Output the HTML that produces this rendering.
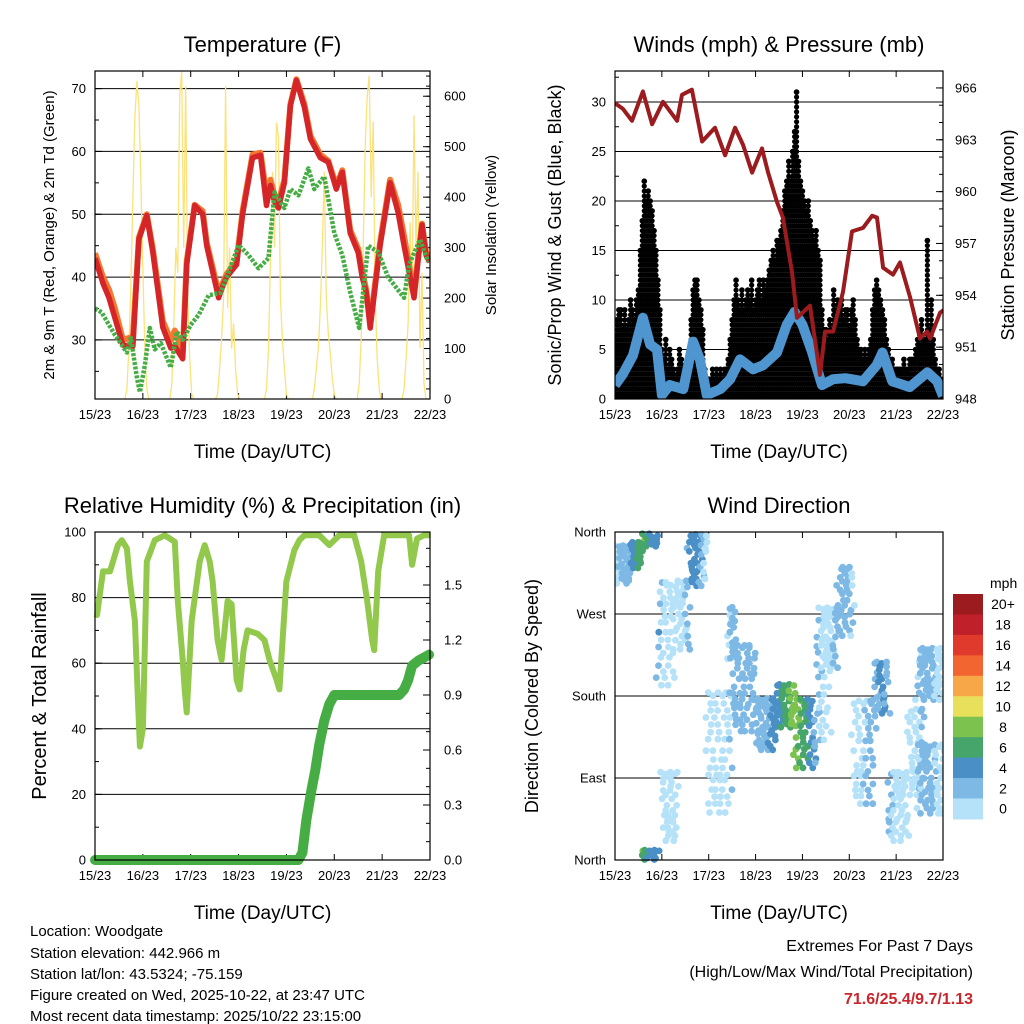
<!DOCTYPE html>
<html><head><meta charset="utf-8"><style>
body{margin:0;background:#fff}
svg{display:block;font-family:"Liberation Sans",Arial,sans-serif}
</style></head><body>
<svg id="c" width="1024" height="1024" viewBox="0 0 1024 1024" xmlns="http://www.w3.org/2000/svg">
<rect width="1024" height="1024" fill="#fff"/>
<g id="p1"></g>
<g id="p2"></g>
<g id="p3"></g>
<g id="p4"></g>
<g id="cb"></g>
<g font-size="15" fill="#000">
<text x="30" y="936">Location: Woodgate</text>
<text x="30" y="958">Station elevation: 442.966 m</text>
<text x="30" y="979">Station lat/lon: 43.5324; -75.159</text>
<text x="30" y="1000">Figure created on Wed, 2025-10-22, at 23:47 UTC</text>
<text x="30" y="1021">Most recent data timestamp: 2025/10/22 23:15:00</text>
</g>
<g text-anchor="end">
<text x="973" y="951" font-size="16">Extremes For Past 7 Days</text>
<text x="973" y="977" font-size="16">(High/Low/Max Wind/Total Precipitation)</text>
<text x="973" y="1004" font-size="16" font-weight="bold" fill="#c8262b">71.6/25.4/9.7/1.13</text>
</g>
</svg>
<script>
// ---------- DATA ----------
const dayLabels=["15/23","16/23","17/23","18/23","19/23","20/23","21/23","22/23"];
const tempHours=[0,4,7,10,14,19,22,26,29,34,38,40,44,46,50,54,56,62,64,66,71,74,79,83,86,88,90,92,95,98,101,105,108,113,117,121,124,128,132,134,136,138,143,148,152,155,158,160,164,166,168];
const tempRed=[43,39,36.7,33.5,29.2,29,46,49.8,44,32,28.7,29,27,42,51.4,50,45,36.7,38.5,40,42,50,59,59.4,51.4,54.6,52,51,55,67.3,71.3,67,62,59,58.3,54,56.7,47,43.9,40,37.6,31.9,45,55,50.3,45,40,36.7,48.3,43.5,42.4];
const tempOrange=[43.8,40,38,35,30,30.5,46.3,50,44.5,33,30,31.5,28,42.5,51.5,50.5,45.5,37.5,39,40.5,42.5,50.5,59.5,59.8,53,55.5,53,52,55.5,67.5,71.5,67.5,62.5,59.5,58.5,54.5,57,47.5,44.5,41,38,32.5,45.5,55.5,51.5,46.5,41,37.5,48.5,44,42.8];
const dewHours=[0,3.3,10,16,18,21,22.5,25,27.5,30,33,38,41,44,48,52,57,63,67,72,77,82,87,90,95,98,102,107,110,115,120,124,128,132.5,137,142,147,155,157.5,163,167];
const dewValues=[35,34.4,30.8,28,30.3,24,21.7,26,31.9,28.5,29.5,25.6,31.3,30,32.4,34,37.1,37.5,40.8,45.1,43.5,41.4,43,53.5,51,54,53,57.3,54,56,47,43.5,37.6,31.9,45,44,40,36.7,42,46,42.4];
const solarPeakHours=[21,43.5,66.5,91,115,137.5,160];
const solarDay1=[0,20,100,230,400,560,630,580,430,250,100,20,0];
const solarDay2=[0,30,150,300,250,600,650,300,620,200,80,10,0];
const solarDay3=[0,10,60,120,200,620,180,300,100,150,60,10,0];
const solarDay4=[0,20,100,280,450,300,548,520,200,120,60,10,0];
const solarDay5=[0,20,60,100,180,300,450,200,130,90,40,10,0];
const solarDay6=[0,30,120,300,500,600,640,400,550,200,80,20,0];
const solarDay7=[0,20,80,150,350,200,562,300,450,100,250,30,0];
const presHours=[-1,4,8.7,14.3,19,24.6,31.8,34.3,39.4,44.6,51.2,56.4,61.5,65.6,70.2,75.3,78.4,83,86,90.7,93.2,99.9,105,107.6,111.7,116.8,121.4,127,131.7,134.2,137.3,142.4,146,151.1,156.2,159.8,161.4,166.5,169];
const presValues=[965.2,964.8,964.1,965.8,963.9,965.2,964.1,965.6,965.9,962.9,963.7,962.1,963.7,962.7,961.1,962.5,961.1,959.4,958.5,955.3,952.7,953.4,949.4,951.9,951.9,954.2,957.7,957.9,958.6,958.5,955.6,955.2,955.9,953.9,951.5,951.9,951.5,953.0,953.2];
const sonicHours=[0,4,9.2,14.3,18,21.5,24,28,35,40,43.5,47,54,59,64,70.7,75.8,83,88,92,96,101,106,111.7,118,127,134,137,142,151,160,165,168];
const sonicValues=[1.4,2.5,4.4,8.2,5.5,5,0.4,1.4,1,5.8,4,0.4,1,2,4,3,3.4,4.7,7.5,8.8,7.5,4.7,1.4,2,2.1,1.8,3.4,4.7,1.8,1.2,2.7,1.8,0.3];
const gustHourly=[6,8,9,9,7,9,7,8,10,9,8,10,11,15,18,22,20,21,20,19,17,15,12,9,5,4,6,3,5,4,3,2,3,5,4,3,2,2,3,8,11,12,12,10,9,7,3,2,2,2,3,2,3,2,3,2,3,3,4,6,8,10,12,10,9,11,9,10,11,10,12,9,10,11,12,10,12,11,12,13,14,15,14,16,16,17,19,21,22,24,22,25,27,31,24,22,21,20,19,20,18,17,16,17,15,14,9,7,7,6,8,7,11,9,10,9,10,8,9,9,7,9,10,8,6,5,5,4,5,4,5,6,9,11,12,11,10,9,8,6,5,4,4,3,3,3,3,3,4,3,3,4,4,4,5,6,7,8,6,6,16,7,10,6,4,3,3,2,1];
const rhHours=[0,1,4,7.5,11.5,13.5,16,17.5,20,21.5,22.5,24,26,30,35,40,41.5,44,45,46,48.5,52.5,55,57.5,59,61.5,63.5,66.5,68.5,71,72.5,74.5,76.5,81.5,85,87.5,91,92.5,96,100,102.5,105,112.5,117.5,122.5,130,133.5,136.5,139,140,142,145,157.5,159,161.5,165,168];
const rhValues=[75,74.7,88,88,96,97.5,95,85,73,49,34.6,40,91,97.5,99,97,79,61,52,45,73,91,96,91,85,67,61,79,78,55,52,64,70,69,67,61,55,52,85,94.5,97.5,99,99,96,99,99,91,79,67,64,88,99,99,90,98,99,99];
const rainHours=[0,102,104,106,108.5,110.5,112.5,115,117.5,120,122.5,152.5,155,157,159,162.5,167.5];
const rainValues=[0,0,0.04,0.22,0.38,0.49,0.63,0.76,0.85,0.9,0.9,0.9,0.93,0.98,1.06,1.09,1.12];
const dirSegStart=[0,8,14,22,24,30,38,47,58,60,72,83,92,103,105,114,122,133,140,150,155,155];
const dirSegEnd=[8,14,22,30,32,38,47,60,62,72,83,92,103,110,114,122,133,140,150,158,168,168];
const dirSegCenter=[325,335,358,250,60,270,330,120,250,190,150,170,140,190,245,285,120,190,60,120,205,90];
const dirSegSpread=[22,15,14,60,40,40,30,70,30,50,30,25,40,60,35,40,60,30,40,50,30,40];
const speedBins=["0","2","4","6","8","10","12","14","16","18","20+"];
const speedColors=["#b5e2f8","#7db9e4","#4a8fc6","#46a56b","#7cc24f","#e8e05a","#f8a748","#f26430","#e03a2c","#c0202a","#9b1b1e"];
const jitterPattern=[0,-0.83,0.52,-0.27,0.91,-0.61,0.18,0.74,-0.97,0.41,-0.14,0.63,-0.46,0.29,-0.72,0.86,-0.38];
const xJitterPattern=[0,0.9,-0.6,0.4,-1.1,0.7,-0.3,1.2,-0.8,0.2,-0.5];

// ---------- HELPERS ----------
const NS="http://www.w3.org/2000/svg";
function mk(parent,tag,attrs,text){const e=document.createElementNS(NS,tag);for(const k in attrs)e.setAttribute(k,attrs[k]);if(text!==undefined)e.textContent=text;parent.appendChild(e);return e;}
function lin(d0,d1,r0,r1){return v=>r0+(v-d0)*(r1-r0)/(d1-d0);}
function interp(xs,ys,x){if(x<=xs[0])return ys[0];for(let i=1;i<xs.length;i++){if(x<=xs[i]){const t=(x-xs[i-1])/(xs[i]-xs[i-1]);return ys[i-1]+t*(ys[i]-ys[i-1]);}}return ys[ys.length-1];}
function pathFrom(xs,ys,fx,fy){return xs.map((h,i)=>(i?"L":"M")+fx(h).toFixed(1)+","+fy(ys[i]).toFixed(1)).join("");}

function frame(g,x0,y0,x1,y1,title,xl){
  const t=mk(g,"text",{x:(x0+x1)/2,y:y0-19,"text-anchor":"middle","font-size":"22"},title);
  
  
  const fx=lin(0,168,x0,x1);
  for(let d=0;d<=7;d++){
    const x=fx(d*24);
    mk(g,"line",{x1:x,y1:y1,x2:x,y2:y1-6,stroke:"#000","stroke-width":"1"});
    mk(g,"line",{x1:x,y1:y0,x2:x,y2:y0+6,stroke:"#000","stroke-width":"1"});
    const tl=mk(g,"text",{x:x,y:y1+20,"text-anchor":"middle","font-size":"13"},dayLabels[d]);
    
    
  }
  const xt=mk(g,"text",{x:(x0+x1)/2,y:y1+59,"text-anchor":"middle","font-size":"19"},xl);
  
  
  return fx;
}
function border(g,x0,y0,x1,y1){const r=mk(g,"rect",{x:x0,y:y0,width:x1-x0,height:y1-y0,fill:"none",stroke:"#000","stroke-width":"1.2"});}
function yTicks(g,fy,side,xEdge,vals,labels,minors,grid,x0,x1,lx,anchor){
  const dir=side==="left"?1:-1;
  vals.forEach((v,i)=>{const y=fy(v);
    if(grid)mk(g,"line",{x1:x0,y1:y,x2:x1,y2:y,stroke:"#000","stroke-width":"1"});
    mk(g,"line",{x1:xEdge,y1:y,x2:xEdge+dir*7,y2:y,stroke:"#000","stroke-width":"1"});
    const t=mk(g,"text",{x:lx,y:y+4.5,"text-anchor":anchor,"font-size":"13"},labels[i]);
    
    
  });
  minors.forEach(v=>{const y=fy(v);mk(g,"line",{x1:xEdge,y1:y,x2:xEdge+dir*4,y2:y,stroke:"#000","stroke-width":"1"});});
}
function yTitle(g,x,y,txt,size,name){const t=mk(g,"text",{x:x,y:y,"text-anchor":"middle","font-size":size,transform:"rotate(-90 "+x+" "+y+")"},txt);}
function range(a,b,s){const r=[];for(let v=a;v<=b+1e-9;v+=s)r.push(+v.toFixed(3));return r;}

// ---------- PANEL 1: TEMPERATURE ----------
(function(){
  const g=document.getElementById("p1");const x0=95,y0=71,x1=430,y1=399;
  const fx=frame(g,x0,y0,x1,y1,"Temperature (F)","Time (Day/UTC)");
  const fy=lin(20.6,72.8,y1,y0), fs=lin(0,650,y1,y0);
  yTicks(g,fy,"left",x0,[30,40,50,60,70],["30","40","50","60","70"],range(25,70,5),true,x0,x1,x0-9,"end");
  yTicks(g,fs,"right",x1,range(0,600,100),range(0,600,100).map(String),range(0,640,20),false,x0,x1,x1+14,"start");
  const clip=mk(g,"clipPath",{id:"cl1"});mk(clip,"rect",{x:x0,y:y0,width:x1-x0,height:y1-y0});
  const pg=mk(g,"g",{"clip-path":"url(#cl1)"});
  const days=[solarDay1,solarDay2,solarDay3,solarDay4,solarDay5,solarDay6,solarDay7];
  days.forEach((arr,k)=>{const hs=arr.map((_,i)=>solarPeakHours[k]-6+i);
    const p=mk(pg,"path",{d:pathFrom(hs,arr,fx,fs),fill:"none",stroke:"#fbe27a","stroke-width":"1.3"});
    
    
  });
  const o=mk(pg,"path",{d:pathFrom(tempHours,tempOrange,fx,fy),fill:"none",stroke:"#f4782f","stroke-width":"6","stroke-linejoin":"round"});
  
  
  const r=mk(pg,"path",{d:pathFrom(tempHours,tempRed,fx,fy),fill:"none",stroke:"#d42628","stroke-width":"5.5","stroke-linejoin":"round"});
  
  
  const d=mk(pg,"path",{d:pathFrom(dewHours,dewValues,fx,fy),fill:"none",stroke:"#46ad45","stroke-width":"4.5","stroke-dasharray":"3 1.5","stroke-linejoin":"round"});
  
  
  border(g,x0,y0,x1,y1);
  yTitle(g,54,235,"2m & 9m T (Red, Orange) & 2m Td (Green)","15","left-y-axis-title");
  yTitle(g,496,235,"Solar Insolation (Yellow)","15","right-y-axis-title");
})();

// ---------- PANEL 2: WINDS ----------
(function(){
  const g=document.getElementById("p2");const x0=615,y0=71,x1=943,y1=399;
  const fx=frame(g,x0,y0,x1,y1,"Winds (mph) & Pressure (mb)","Time (Day/UTC)");
  const fy=lin(0,33.13,y1,y0), fp=lin(948,966.98,y1,y0);
  yTicks(g,fy,"left",x0,range(0,30,5),range(0,30,5).map(String),range(0,32.5,2.5),true,x0,x1,x0-9,"end");
  yTicks(g,fp,"right",x1,range(948,966,3),range(948,966,3).map(String),range(948,966,1),false,x0,x1,x1+12,"start");
  const clip=mk(g,"clipPath",{id:"cl2"});mk(clip,"rect",{x:x0,y:y0,width:x1-x0,height:y1-y0});
  const pg=mk(g,"g",{"clip-path":"url(#cl2)"});
  gustHourly.forEach((gv,h)=>{
    for(let v=0;v<=gv;v+=0.5){
      const c=mk(pg,"circle",{cx:fx(h),cy:fy(Math.min(v,gv)),r:"2.6",fill:"#000"});
      
      
    }
    const c2=mk(pg,"circle",{cx:fx(h),cy:fy(gv),r:"2.8",fill:"#000"});
    
    
  });
  const b=mk(pg,"path",{d:pathFrom(sonicHours,sonicValues,fx,fy),fill:"none",stroke:"#4f96d1","stroke-width":"10","stroke-linejoin":"round"});
  
  
  const p=mk(pg,"path",{d:pathFrom(presHours,presValues,fx,fp),fill:"none",stroke:"#9b1b1e","stroke-width":"4","stroke-linejoin":"round"});
  
  
  border(g,x0,y0,x1,y1);
  yTitle(g,561,235,"Sonic/Prop Wind & Gust (Blue, Black)","18","left-y-axis-title");
  yTitle(g,1014,235,"Station Pressure (Maroon)","18","right-y-axis-title");
})();

// ---------- PANEL 3: RH & PRECIP ----------
(function(){
  const g=document.getElementById("p3");const x0=95,y0=532,x1=430,y1=860;
  const fx=frame(g,x0,y0,x1,y1,"Relative Humidity (%) & Precipitation (in)","Time (Day/UTC)");
  const fy=lin(0,100,y1,y0), fr=lin(0,1.789,y1,y0);
  yTicks(g,fy,"left",x0,range(0,100,20),range(0,100,20).map(String),range(0,100,10),true,x0,x1,x0-9,"end");
  yTicks(g,fr,"right",x1,range(0,1.5,0.3),["0.0","0.3","0.6","0.9","1.2","1.5"],range(0,1.75,0.1),false,x0,x1,x1+14,"start");
  const clip=mk(g,"clipPath",{id:"cl3"});mk(clip,"rect",{x:x0-6,y:y0,width:x1-x0+12,height:y1-y0+8});
  const pg=mk(g,"g",{"clip-path":"url(#cl3)"});
  const rh=mk(pg,"path",{d:pathFrom(rhHours,rhValues,fx,fy),fill:"none",stroke:"#92c84b","stroke-width":"6","stroke-linejoin":"round"});
  
  
  const rn=mk(pg,"path",{d:pathFrom(rainHours,rainValues,fx,fr),fill:"none",stroke:"#46ad45","stroke-width":"10","stroke-linecap":"round","stroke-linejoin":"round"});
  
  
  border(g,x0,y0,x1,y1);
  yTitle(g,46,696,"Percent & Total Rainfall","20","left-y-axis-title");
})();

// ---------- PANEL 4: WIND DIRECTION ----------
(function(){
  const g=document.getElementById("p4");const x0=615,y0=532,x1=943,y1=860;
  const fx=frame(g,x0,y0,x1,y1,"Wind Direction","Time (Day/UTC)");
  const fd=lin(0,360,y1,y0);
  yTicks(g,fd,"left",x0,[0,90,180,270,360],["North","East","South","West","North"],[],false,x0,x1,x0-9,"end");
  [90,180,270].forEach(v=>mk(g,"line",{x1:x0,y1:fd(v),x2:x1,y2:fd(v),stroke:"#000","stroke-width":"1"}));
  const clip=mk(g,"clipPath",{id:"cl4"});mk(clip,"rect",{x:x0,y:y0-3,width:x1-x0,height:y1-y0+6});
  const pg=mk(g,"g",{"clip-path":"url(#cl4)"});
  let idx=0;
  dirSegStart.forEach((s,k)=>{
    for(let h=s;h<=dirSegEnd[k];h+=0.22){
      const off=jitterPattern[idx%jitterPattern.length];
      const xo=xJitterPattern[idx%xJitterPattern.length];idx++;
      let d=dirSegCenter[k]+off*dirSegSpread[k];d=((d%360)+360)%360;
      const spd=interp(sonicHours,sonicValues,h);
      const bin=Math.min(10,Math.max(0,Math.floor(spd/2)));
      const c=mk(pg,"circle",{cx:(fx(h)+xo*2).toFixed(1),cy:fd(d).toFixed(1),r:"3.4",fill:speedColors[bin]});
      
      
    }
  });
  border(g,x0,y0,x1,y1);
  yTitle(g,538,696,"Direction (Colored By Speed)","18","left-y-axis-title");
})();

// ---------- COLORBAR ----------
(function(){
  const g=document.getElementById("cb");const x=953,yTop=594,h=20.45;
  const u=mk(g,"text",{x:990,y:588,"font-size":"14"},"mph");
  
  
  for(let i=0;i<11;i++){
    const bi=10-i;const y=yTop+i*h;
    const r=mk(g,"rect",{x:x,y:y,width:30,height:h+0.5,fill:speedColors[bi]});
    
    
    const t=mk(g,"text",{x:1003,y:y+h/2+5,"text-anchor":"middle","font-size":"14"},speedBins[bi]);
    
    
  }
})();
</script>
</body></html>
